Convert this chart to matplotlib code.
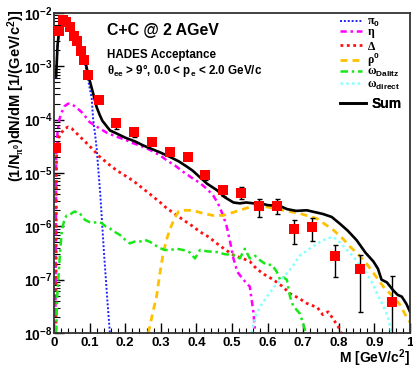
import numpy as np
import matplotlib
matplotlib.use("Agg")
import matplotlib.pyplot as plt

plt.rcParams['font.family'] = ['Liberation Sans', 'DejaVu Sans']
plt.rcParams['font.weight'] = 'bold'
plt.rcParams['mathtext.fontset'] = 'custom'
plt.rcParams['mathtext.rm'] = 'Liberation Sans:weight=bold'
plt.rcParams['mathtext.bf'] = 'Liberation Sans:weight=bold'
plt.rcParams['mathtext.it'] = 'Liberation Sans:weight=bold'
plt.rcParams['mathtext.sf'] = 'Liberation Sans:weight=bold'
plt.rcParams['mathtext.cal'] = 'Liberation Serif'
plt.rcParams['mathtext.default'] = 'rm'
plt.rcParams['axes.unicode_minus'] = False

# ---------------- data ----------------
data_m = [0.005, 0.015, 0.025, 0.035, 0.045, 0.055, 0.065, 0.075, 0.085, 0.095,
          0.125, 0.175, 0.225, 0.275, 0.325, 0.375, 0.425, 0.475, 0.525, 0.575,
          0.625, 0.675, 0.725, 0.79, 0.86, 0.95]
data_y = [3.0e-5, 4.6e-3, 7.5e-3, 6.9e-3, 5.5e-3, 3.7e-3, 3.0e-3, 1.96e-3, 1.32e-3, 6.9e-4,
          2.37e-4, 8.5e-5, 5.9e-5, 3.8e-5, 2.45e-5, 2.0e-5, 9.1e-6, 4.7e-6, 4.3e-6, 2.4e-6,
          2.45e-6, 8.9e-7, 9.8e-7, 2.8e-7, 1.6e-7, 3.8e-8]
data_err = [3e-6, 2e-4, 3e-4, 3e-4, 2.5e-4, 1.8e-4, 1.5e-4, 1e-4, 7e-5, 4e-5,
            1.5e-5, 1.8e-5, 1.1e-5, 4e-6, 2.5e-6, 2.5e-6, 1.8e-6, 1.0e-6, 1.1e-6, 0.9e-6,
            0.75e-6, 0.42e-6, 0.45e-6, 0.17e-6, 0.135e-6, 0.077e-6]

pi0_m = [0.005, 0.01, 0.015, 0.02, 0.025, 0.03, 0.04, 0.05, 0.06, 0.07, 0.08, 0.09,
         0.1, 0.106, 0.11, 0.115, 0.12, 0.13, 0.14, 0.15, 0.157]
pi0_y = [6.0e-4, 2.4e-3, 4.9e-3, 7.1e-3, 8.0e-3, 7.8e-3, 6.8e-3, 5.6e-3, 4.2e-3, 2.9e-3, 1.7e-3, 9.0e-4,
         4.0e-4, 2.5e-4, 1.0e-4, 5.6e-5, 2.8e-5, 4.0e-6, 3.5e-7, 4.0e-8, 1.0e-8]

eta_m = [0.004, 0.006, 0.01, 0.015, 0.02, 0.03, 0.04, 0.05, 0.065, 0.082, 0.1, 0.129, 0.15,
         0.176, 0.2, 0.223, 0.25, 0.27, 0.3, 0.316, 0.34, 0.363, 0.39, 0.41, 0.43, 0.447,
         0.46, 0.475, 0.485, 0.495, 0.504, 0.515, 0.532, 0.55, 0.56, 0.565]
eta_y = [1e-8, 2e-5, 6e-5, 1.0e-4, 1.3e-4, 1.8e-4, 2.0e-4, 1.95e-4, 1.65e-4, 1.3e-4, 9e-5, 6.8e-5, 5.6e-5,
         4.8e-5, 4.2e-5, 3.6e-5, 3.1e-5, 2.7e-5, 2.1e-5, 1.74e-5, 1.38e-5, 1.05e-5, 7.9e-6, 6.5e-6, 5.0e-6, 3.8e-6,
         2.75e-6, 1.6e-6, 1.0e-6, 5e-7, 2.5e-7, 1.4e-7, 1.0e-7, 7.4e-8, 2.5e-8, 1e-8]

delta_m = [0.005, 0.007, 0.01, 0.015, 0.022, 0.03, 0.04, 0.05, 0.073, 0.1, 0.129, 0.157, 0.176,
           0.2, 0.223, 0.25, 0.27, 0.3, 0.316, 0.34, 0.363, 0.39, 0.41, 0.435, 0.457, 0.48,
           0.504, 0.53, 0.55, 0.569, 0.59, 0.616, 0.64, 0.663, 0.69, 0.71, 0.74, 0.755, 0.77,
           0.785, 0.8, 0.81]
delta_y = [5e-9, 2e-5, 3e-5, 5e-5, 5.8e-5, 6.8e-5, 7.3e-5, 6.8e-5, 4.8e-5, 3.2e-5, 2.0e-5, 1.4e-5, 1.12e-5,
           8.9e-6, 7.1e-6, 5.1e-6, 4.0e-6, 2.75e-6, 2.2e-6, 1.7e-6, 1.32e-6, 1.0e-6, 7.9e-7, 6.3e-7, 4.8e-7, 3.7e-7,
           2.9e-7, 2.5e-7, 2.2e-7, 1.6e-7, 1.26e-7, 1.0e-7, 7.6e-8, 5.5e-8, 4.4e-8, 3.6e-8, 3.0e-8, 2.2e-8, 2.5e-8,
           1.8e-8, 1.26e-8, 9e-9]

rho_m = [0.265, 0.278, 0.288, 0.297, 0.307, 0.316, 0.326, 0.338, 0.35, 0.363, 0.38, 0.4, 0.42,
         0.447, 0.475, 0.5, 0.522, 0.55, 0.575, 0.6, 0.644, 0.691, 0.738, 0.785, 0.81, 0.831,
         0.855, 0.878, 0.9, 0.925, 0.95, 0.972, 0.99, 1.0]
rho_y = [1e-8, 2.5e-8, 4.8e-8, 1.26e-7, 3.2e-7, 5.6e-7, 8.9e-7, 1.4e-6, 1.9e-6, 2.0e-6, 2.0e-6, 1.9e-6, 1.74e-6,
         1.6e-6, 1.6e-6, 1.8e-6, 2.0e-6, 2.3e-6, 2.4e-6, 2.3e-6, 2.0e-6, 1.74e-6, 1.4e-6, 8.5e-7, 6e-7, 4.2e-7,
         2.95e-7, 2.0e-7, 1.26e-7, 7.4e-8, 5e-8, 3.4e-8, 2e-8, 1.6e-8]

omd_m = [0.006, 0.009, 0.012, 0.017, 0.022, 0.03, 0.036, 0.045, 0.052, 0.059, 0.066, 0.073, 0.08,
         0.087, 0.1, 0.11, 0.122, 0.134, 0.145, 0.157, 0.17, 0.185, 0.2, 0.213, 0.228, 0.242,
         0.255, 0.27, 0.285, 0.298, 0.312, 0.326, 0.345, 0.363, 0.38, 0.396, 0.41, 0.43, 0.457,
         0.48, 0.504, 0.522, 0.536, 0.55, 0.565, 0.579, 0.597, 0.612, 0.626, 0.635, 0.645, 0.654,
         0.663, 0.672, 0.691, 0.705, 0.71]
omd_y = [1e-8, 5e-8, 1e-7, 3.2e-7, 8.5e-7, 1.4e-6, 1.6e-6, 1.65e-6, 1.8e-6, 1.9e-6, 1.74e-6, 1.74e-6, 1.5e-6,
         1.32e-6, 1.2e-6, 1.17e-6, 1.2e-6, 1.15e-6, 1.0e-6, 9.1e-7, 7.9e-7, 6.9e-7, 5.6e-7, 4.8e-7, 5.2e-7, 5.2e-7,
         5.6e-7, 5.1e-7, 4.4e-7, 3.9e-7, 3.6e-7, 3.6e-7, 3.8e-7, 3.6e-7, 3.3e-7, 2.5e-7, 3.6e-7, 3.4e-7, 3.3e-7,
         3.0e-7, 2.9e-7, 2.5e-7, 3.8e-7, 2.5e-7, 2.8e-7, 2.3e-7, 1.9e-7, 1.9e-7, 1.4e-7, 1e-7, 1.1e-7, 1e-7,
         4.8e-8, 3.2e-8, 2.3e-8, 1.15e-8, 8e-9]

omdir_m = [0.555, 0.565, 0.58, 0.6, 0.62, 0.644, 0.665, 0.69, 0.71, 0.738, 0.766, 0.785, 0.803,
           0.82, 0.841, 0.86, 0.878, 0.897, 0.91, 0.925, 0.938, 0.948]
omdir_y = [1e-8, 2e-8, 3.2e-8, 5e-8, 7.6e-8, 1.1e-7, 1.6e-7, 2.8e-7, 3.5e-7, 4.7e-7, 5.9e-7, 6.3e-7, 5e-7,
           3.8e-7, 2.7e-7, 1.8e-7, 1.32e-7, 8e-8, 5e-8, 3.2e-8, 2e-8, 1e-8]

sum_m = [0.006, 0.01, 0.015, 0.02, 0.026, 0.035, 0.045, 0.055, 0.064, 0.073, 0.082, 0.09, 0.096,
         0.106, 0.113, 0.12, 0.129, 0.136, 0.143, 0.157, 0.176, 0.2, 0.228, 0.25, 0.27, 0.3,
         0.326, 0.35, 0.373, 0.39, 0.41, 0.43, 0.457, 0.48, 0.504, 0.522, 0.54, 0.56, 0.58,
         0.6, 0.635, 0.655, 0.68, 0.71, 0.74, 0.756, 0.78, 0.803, 0.825, 0.85, 0.875, 0.897,
         0.91, 0.92, 0.935, 0.953, 0.965, 0.977, 0.99, 1.0]
sum_y = [6.5e-4, 2.5e-3, 5.0e-3, 7.2e-3, 8.1e-3, 7.4e-3, 6.0e-3, 4.6e-3, 3.4e-3, 2.4e-3, 1.6e-3, 1.07e-3, 6.9e-4,
         3.9e-4, 2.6e-4, 1.7e-4, 1.2e-4, 9.5e-5, 8.3e-5, 6.3e-5, 5.5e-5, 4.6e-5, 3.9e-5, 3.3e-5, 2.9e-5, 2.4e-5,
         2.0e-5, 1.66e-5, 1.32e-5, 1.1e-5, 8.3e-6, 6.3e-6, 4.8e-6, 3.5e-6, 2.8e-6, 2.7e-6, 2.8e-6, 2.7e-6, 2.7e-6,
         2.5e-6, 2.4e-6, 2.1e-6, 1.95e-6, 2.0e-6, 1.8e-6, 1.7e-6, 1.5e-6, 1.12e-6, 8.3e-7, 5.5e-7, 3.2e-7, 2.2e-7,
         1.6e-7, 1.0e-7, 8.9e-8, 6.3e-8, 5.2e-8, 4.8e-8, 3.5e-8, 2.5e-8]

xtick_vals = [0, 0.1, 0.2, 0.3, 0.4, 0.5, 0.6, 0.7, 0.8, 0.9, 1.0]
xtick_labels = ['0', '0.1', '0.2', '0.3', '0.4', '0.5', '0.6', '0.7', '0.8', '0.9', '1']

legend_labels = [r'$\mathcal{\pi}_{0}$', r'$\mathcal{\eta}$', r'$\mathcal{\Delta}$',
                 r'$\mathcal{\rho}^{0}$', r'$\mathcal{\omega}_{Dalitz}$',
                 r'$\mathcal{\omega}_{direct}$', 'Sum']

# ---------------- figure ----------------
fig = plt.figure(figsize=(4.13, 3.70), dpi=100)
ax = fig.add_axes([54/413, 1-333/370, 356/413, 320/370])
ax.set_yscale('log')
ax.set_xlim(0, 1)
ax.set_ylim(1e-8, 1e-2)

l_pi, = ax.plot(pi0_m, pi0_y, color='#2020ff', lw=1.4, dashes=(1, 1))
l_eta, = ax.plot(eta_m, eta_y, color='#ff00ff', lw=1.8, dashes=(2.5, 1.5, 1, 1.5))
l_del, = ax.plot(delta_m, delta_y, color='#ff1010', lw=2.0, dashes=(1, 1.3))
l_rho, = ax.plot(rho_m, rho_y, color='#ffc000', lw=2.0, dashes=(2.5, 1.8))
l_omd, = ax.plot(omd_m, omd_y, color='#18e818', lw=1.8, dashes=(3, 1.5, 1, 1.5))
l_omdir, = ax.plot(omdir_m, omdir_y, color='#88ffff', lw=1.8, dashes=(1, 1.3))
l_sum, = ax.plot(sum_m, sum_y, color='black', lw=1.9)

dy = np.array(data_y)
de = np.array(data_err)
lower = np.minimum(de, dy - 1e-10)
ax.errorbar(data_m, data_y, yerr=[lower, de], fmt='none', ecolor='black', elinewidth=1.0,
            capsize=1.8, capthick=1.0, zorder=5)
ax.plot(data_m, data_y, 's', color='#ff0000', markersize=6.6, markeredgewidth=0, zorder=6)

# axes styling
ax.set_xticks(xtick_vals)
ax.set_xticklabels(xtick_labels, fontweight='bold')
ax.set_xticks(np.arange(0, 1.0001, 0.02), minor=True)
ax.tick_params(axis='both', which='both', direction='in', top=False, right=False)
ax.tick_params(axis='x', which='major', length=7, width=1.0, labelsize=9.5, pad=3)
ax.tick_params(axis='x', which='minor', length=3.5, width=0.8)
ax.tick_params(axis='y', which='major', length=7.5, width=1.0, labelsize=10, pad=1)
ax.tick_params(axis='y', which='minor', length=4, width=0.8)
for s in ax.spines.values():
    s.set_linewidth(1.3)
    s.set_color('#333333')

ax.set_xlabel('M [GeV/c$^{2}$]', fontsize=10, fontweight='bold', loc='right')
ax.xaxis.set_label_coords(1.0, -0.046)
ax.xaxis.label.set_va('top')
ax.set_ylabel(r'(1/N$_{\mathcal{\pi}^{0}}$)dN/dM [1/(GeV/c$^{2}$)]', fontsize=10.5,
              fontweight='bold', loc='top')
ax.yaxis.set_label_coords(-0.075, 1.01)

# annotations
ax.text(0.149, 0.931, 'C+C @ 2 AGeV', transform=ax.transAxes, fontsize=11.4, va='baseline')
ax.text(0.149, 0.859, 'HADES Acceptance', transform=ax.transAxes, fontsize=8.4, va='baseline')
ax.text(0.149, 0.809, r'$\mathcal{\theta}_{ee}$ > 9°, 0.0 < p$_{e}$ < 2.0 GeV/c',
        transform=ax.transAxes, fontsize=8.4, va='baseline')

# legend: one entry per row, ROOT-like spacing
handles = [l_pi, l_eta, l_del, l_rho, l_omd, l_omdir, l_sum]
row_y = [0.970, 0.936, 0.895, 0.853, 0.815, 0.775, 0.716]
row_size = [8.5, 8.5, 8.5, 8.5, 8.5, 8.5, 10]
for h, lab, yy, fs in zip(handles, legend_labels, row_y, row_size):
    lg = ax.legend([h], [lab], loc='center left', bbox_to_anchor=(0.803, yy), frameon=False,
                   prop={'size': fs, 'weight': 'bold'}, handlelength=1.85, handletextpad=0.45,
                   borderpad=0, borderaxespad=0)
    ax.add_artist(lg)

fig.savefig('out.png', dpi=100)
